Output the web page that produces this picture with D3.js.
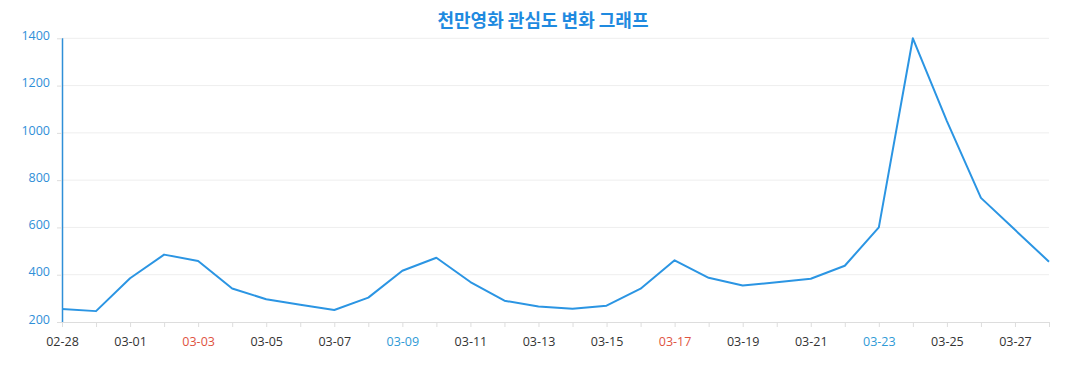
<!DOCTYPE html>
<html><head><meta charset="utf-8">
<script src="https://cdn.jsdelivr.net/npm/d3@7/dist/d3.min.js"></script>
<style>body{margin:0;background:#fff;}svg{display:block;font-family:"Open Sans","Noto Sans",sans-serif;}</style>
</head><body><svg id="c" width="1077" height="390"></svg>
<script>
const dates = ["02-28","02-29","03-01","03-02","03-03","03-04","03-05","03-06","03-07","03-08","03-09","03-10","03-11","03-12","03-13","03-14","03-15","03-16","03-17","03-18","03-19","03-20","03-21","03-22","03-23","03-24","03-25","03-26","03-27","03-28"];
const values = [255,246,385,485,458,342,296,273,251,303,417,472,369,290,266,256,269,341,461,387,354,368,383,438,600,1400,1050,725,590,455];
const yTicks = [200,400,600,800,1000,1200,1400];
const redLabels = ["03-03","03-17"];
const blueLabels = ["03-09","03-23"];
const title = "천만영화 관심도 변화 그래프";

const svg = d3.select("#c");
const L = 62, R = 1049, T = 38.3, B = 322;
const x = d3.scalePoint().domain(dates).range([L, R]);
const y = d3.scaleLinear().domain([200, 1400]).range([B, T]);

svg.append("text").attr("x", 543).attr("y", 27).attr("text-anchor", "middle")
  .attr("font-family", "'Noto Sans CJK KR',sans-serif").attr("font-weight", "bold")
  .attr("font-size", 18).attr("fill", "#1f8ae0").text(title);

// grid
svg.append("g").selectAll("line").data(yTicks.slice(1)).join("line")
  .attr("x1", L).attr("x2", R).attr("y1", d => y(d)).attr("y2", d => y(d))
  .attr("stroke", "#eeeeee").attr("stroke-width", 1);

// x axis
const xAxis = d3.axisBottom(x).tickSize(5).tickPadding(10)
  .tickFormat((d, i) => i % 2 === 0 ? d : "");
const gx = svg.append("g").attr("transform", `translate(0,${B})`).call(xAxis);
gx.select(".domain").attr("stroke", "#dddddd").attr("d", `M${L},0.5H${R}`);
gx.selectAll(".tick line").attr("stroke", "#dddddd");
gx.selectAll(".tick text").attr("font-size", 12.5)
  .attr("font-family", "'Open Sans',sans-serif")
  .attr("fill", d => redLabels.includes(d) ? "#e0533f" : blueLabels.includes(d) ? "#2f9ad6" : "#333333");

// y axis
const yAxis = d3.axisLeft(y).tickValues(yTicks).tickFormat(d3.format("d")).tickSize(5).tickPadding(7);
const gy = svg.append("g").attr("transform", `translate(${L},0)`).call(yAxis);
gy.select(".domain").attr("stroke", "#2f8fd8").attr("stroke-width", 1.5).attr("d", `M0.5,${T}V${B}`);
gy.selectAll(".tick line").attr("stroke", "#dddddd");
gy.selectAll(".tick text").attr("font-size", 12.5).attr("dy", "0.1em")
  .attr("font-family", "'Open Sans',sans-serif").attr("fill", "#2f8fd8");

// line
const line = d3.line().x((d, i) => x(dates[i])).y(d => y(d));
svg.append("path").datum(values).attr("d", line)
  .attr("fill", "none").attr("stroke", "#2b95e3").attr("stroke-width", 2).attr("stroke-linejoin", "round");
</script></body></html>
